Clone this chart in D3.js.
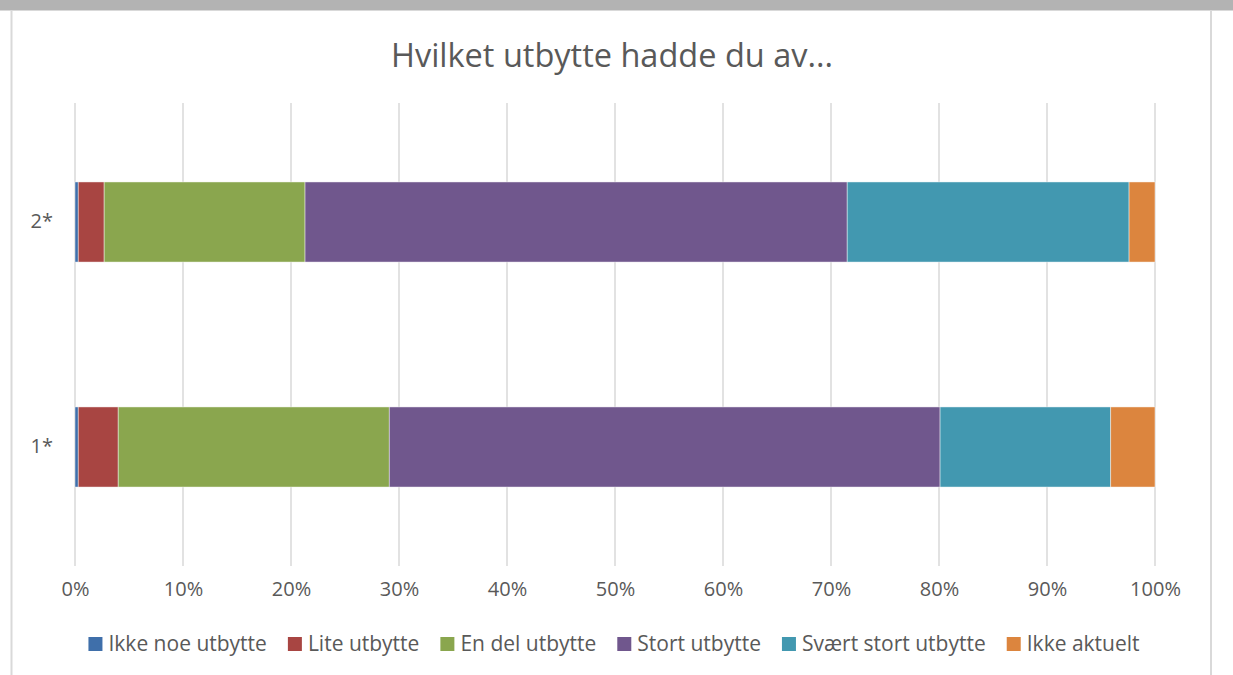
<!DOCTYPE html>
<html>
<head>
<meta charset="utf-8">
<script src="https://cdn.jsdelivr.net/npm/d3@7"></script>
<style>
  body { margin: 0; background: #fff; }
  text { font-family: "Open Sans", sans-serif; fill: #595959; }
</style>
</head>
<body>
<svg id="chart" width="1233" height="675"></svg>
<script>
// Data
const categories = ["2*", "1*"];
const seriesNames = ["Ikke noe utbytte", "Lite utbytte", "En del utbytte", "Stort utbytte", "Svært stort utbytte", "Ikke aktuelt"];
const seriesColors = ["#3F6FAA", "#A84542", "#8AA64E", "#70578D", "#4298B0", "#DC853E"];
// percent of each category, in series order
const values2 = [0.3, 2.4, 18.6, 50.2, 26.1, 2.4];
const values1 = [0.3, 3.7, 25.1, 51.0, 15.8, 4.1];
const xTicks = [0, 0.1, 0.2, 0.3, 0.4, 0.5, 0.6, 0.7, 0.8, 0.9, 1.0];
const title = "Hvilket utbytte hadde du av...";

const width = 1233, height = 675;
const svg = d3.select("#chart");

// Frame: grey bar on top and light borders
svg.append("rect").attr("x", 0).attr("y", 0).attr("width", width).attr("height", 10).attr("fill", "#b3b3b3");
svg.append("line").attr("x1", 0).attr("x2", width).attr("y1", 10.5).attr("y2", 10.5).attr("stroke", "#d9d9d9");
svg.append("line").attr("x1", 11.5).attr("x2", 11.5).attr("y1", 10).attr("y2", height).attr("stroke", "#d9d9d9").attr("stroke-width", 2);
svg.append("line").attr("x1", 1211).attr("x2", 1211).attr("y1", 10).attr("y2", height).attr("stroke", "#d9d9d9").attr("stroke-width", 2);

// Title
svg.append("text")
  .attr("x", 612).attr("y", 67)
  .attr("text-anchor", "middle")
  .style("font-size", "32.5px")
  .text(title);

// Plot area
const margin = { top: 103, left: 75, right: 1155, bottom: 566 };

const x = d3.scaleLinear().domain([0, 1]).range([margin.left, margin.right]);
const y = d3.scaleBand()
  .domain(categories)
  .range([margin.top, margin.bottom])
  .paddingInner(0.644)
  .paddingOuter(0.351);

// Gridlines
svg.append("g")
  .selectAll("line")
  .data(xTicks)
  .enter().append("line")
  .attr("x1", d => x(d)).attr("x2", d => x(d))
  .attr("y1", margin.top).attr("y2", margin.bottom)
  .attr("stroke", "#d9d9d9")
  .attr("stroke-width", 1.5);

// Stack the data
const rows = categories.map((c, i) => {
  const vals = i === 0 ? values2 : values1;
  const row = { cat: c };
  seriesNames.forEach((s, j) => row[s] = vals[j] / 100);
  return row;
});
const stacked = d3.stack().keys(seriesNames)(rows);

svg.append("g")
  .selectAll("g")
  .data(stacked)
  .enter().append("g")
  .attr("fill", (d, i) => seriesColors[i])
  .selectAll("rect")
  .data(d => d)
  .enter().append("rect")
  .attr("x", d => x(d[0]))
  .attr("width", d => x(d[1]) - x(d[0]))
  .attr("y", d => y(d.data.cat))
  .attr("height", y.bandwidth())
  .attr("stroke", "#ffffff")
  .attr("stroke-opacity", 0.6)
  .attr("stroke-width", 0.75);

// X axis labels
const xAxis = svg.append("g")
  .attr("transform", "translate(0," + 570 + ")")
  .call(d3.axisBottom(x).tickValues(xTicks).tickFormat(d3.format(".0%")).tickSize(0).tickPadding(12));
xAxis.select(".domain").remove();
xAxis.selectAll("text").style("font-size", "20px").style("font-family", "'Open Sans', sans-serif").attr("fill", "#595959");

// Y axis labels
const yAxis = svg.append("g")
  .attr("transform", "translate(" + margin.left + ",0)")
  .call(d3.axisLeft(y).tickSize(0).tickPadding(22));
yAxis.select(".domain").remove();
yAxis.selectAll("text").style("font-size", "20px").style("font-family", "'Open Sans', sans-serif").attr("fill", "#595959");

// Legend
const legend = svg.append("g").attr("transform", "translate(0,644)");
const items = legend.selectAll("g")
  .data(seriesNames)
  .enter().append("g");
items.append("rect")
  .attr("y", -7).attr("width", 14).attr("height", 14)
  .attr("fill", (d, i) => seriesColors[i]);
items.append("text")
  .attr("x", 20).attr("dy", "0.35em")
  .style("font-size", "21px")
  .text(d => d);

// lay out legend items side by side, centred in the frame
let offset = 0;
const positions = [];
items.each(function() {
  const w = this.querySelector("text").getComputedTextLength();
  positions.push(offset);
  offset += 20 + w + 21;
});
const totalWidth = offset - 21;
const startX = 614 - totalWidth / 2;
items.attr("transform", (d, i) => "translate(" + (startX + positions[i]) + ",0)");
</script>
</body>
</html>
